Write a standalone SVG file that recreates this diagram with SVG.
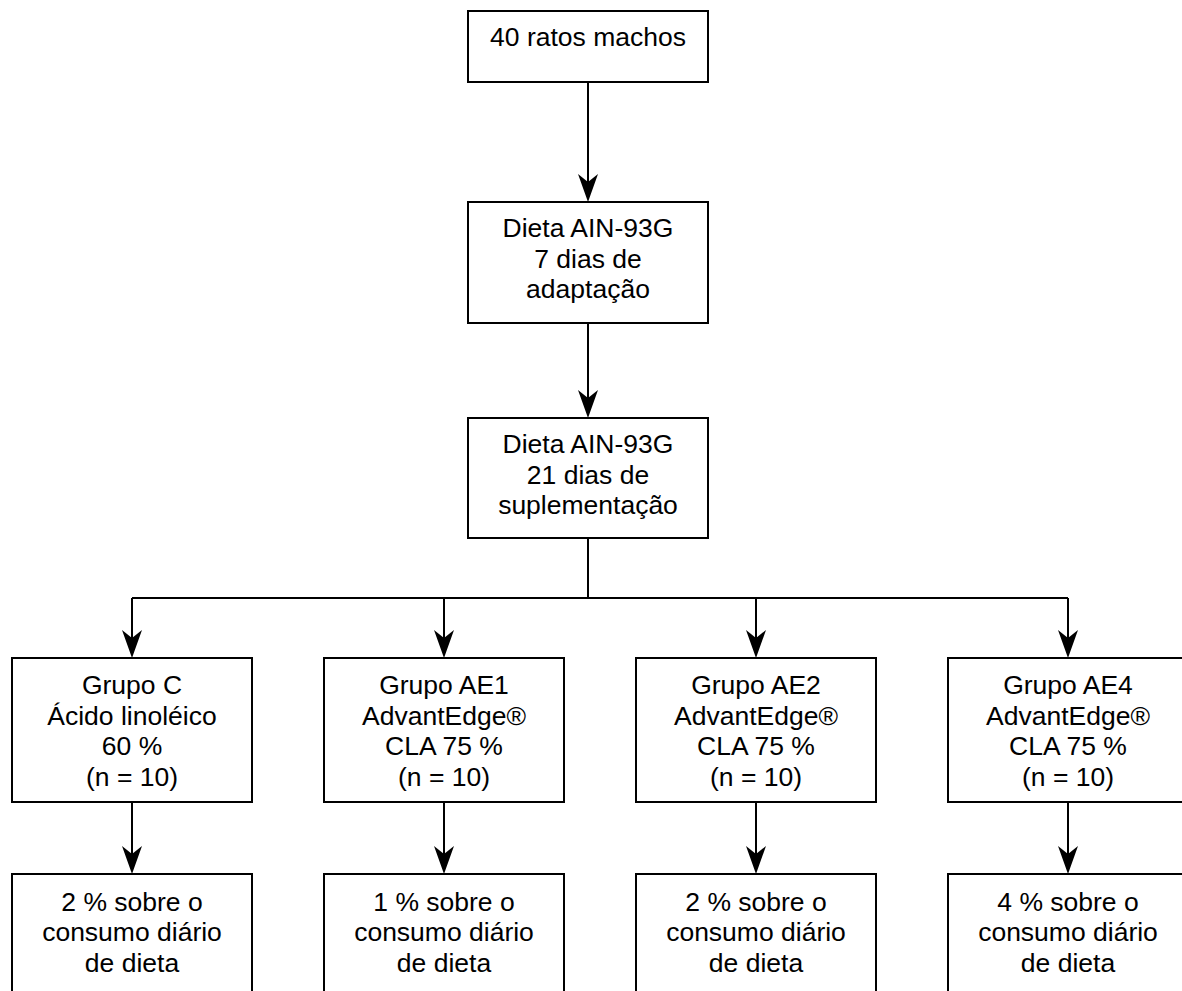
<svg xmlns="http://www.w3.org/2000/svg" width="1182" height="991" viewBox="0 0 1182 991">
<style>
.box{fill:#fff;stroke:#000;stroke-width:2}
.t{font-family:"Liberation Sans",Arial,sans-serif;font-size:26.5px;fill:#000;text-anchor:middle}
.c{fill:none;stroke:#000;stroke-width:2}
</style>
<defs>
<marker id="arr" markerUnits="userSpaceOnUse" markerWidth="30" markerHeight="22" viewBox="0 0 30 22" refX="8" refY="11" orient="auto">
<path d="M0,1 L28,11 L0,21 L8,11 Z" fill="#000"/>
</marker>
</defs>
<rect width="1182" height="991" fill="#fff"/>
<g id="connectors">
<path class="c" d="M588,82 V182" marker-end="url(#arr)"/>
<path class="c" d="M588,323 V398" marker-end="url(#arr)"/>
<path class="c" d="M588,538 V598 M132,598 H1068"/>
<path class="c" d="M132,598 V638" marker-end="url(#arr)"/>
<path class="c" d="M444,598 V638" marker-end="url(#arr)"/>
<path class="c" d="M756,598 V638" marker-end="url(#arr)"/>
<path class="c" d="M1068,598 V638" marker-end="url(#arr)"/>
<path class="c" d="M132,802 V854" marker-end="url(#arr)"/>
<path class="c" d="M444,802 V854" marker-end="url(#arr)"/>
<path class="c" d="M756,802 V854" marker-end="url(#arr)"/>
<path class="c" d="M1068,802 V854" marker-end="url(#arr)"/>
</g>
<g id="n1"><rect class="box" x="468" y="11" width="240" height="71"/><text class="t" x="588" y="46">40 ratos machos</text></g>
<g id="n2"><rect class="box" x="468" y="202" width="240" height="121"/><text class="t" x="588" y="237">Dieta AIN-93G</text><text class="t" x="588" y="267.5">7 dias de</text><text class="t" x="588" y="298">adaptação</text></g>
<g id="n3"><rect class="box" x="468" y="418" width="240" height="120"/><text class="t" x="588" y="453">Dieta AIN-93G</text><text class="t" x="588" y="483.5">21 dias de</text><text class="t" x="588" y="514">suplementação</text></g>
<g id="gC"><rect class="box" x="12" y="658" width="240" height="144"/><text class="t" x="132" y="694">Grupo C</text><text class="t" x="132" y="724.5">Ácido linoléico</text><text class="t" x="132" y="755">60 %</text><text class="t" x="132" y="785.5">(n = 10)</text></g>
<g id="gAE1"><rect class="box" x="324" y="658" width="240" height="144"/><text class="t" x="444" y="694">Grupo AE1</text><text class="t" x="444" y="724.5">AdvantEdge®</text><text class="t" x="444" y="755">CLA 75 %</text><text class="t" x="444" y="785.5">(n = 10)</text></g>
<g id="gAE2"><rect class="box" x="636" y="658" width="240" height="144"/><text class="t" x="756" y="694">Grupo AE2</text><text class="t" x="756" y="724.5">AdvantEdge®</text><text class="t" x="756" y="755">CLA 75 %</text><text class="t" x="756" y="785.5">(n = 10)</text></g>
<g id="gAE4"><rect class="box" x="948" y="658" width="240" height="144"/><text class="t" x="1068" y="694">Grupo AE4</text><text class="t" x="1068" y="724.5">AdvantEdge®</text><text class="t" x="1068" y="755">CLA 75 %</text><text class="t" x="1068" y="785.5">(n = 10)</text></g>
<g id="dC"><rect class="box" x="12" y="874" width="240" height="130"/><text class="t" x="132" y="910.5">2 % sobre o</text><text class="t" x="132" y="941">consumo diário</text><text class="t" x="132" y="971.5">de dieta</text></g>
<g id="dAE1"><rect class="box" x="324" y="874" width="240" height="130"/><text class="t" x="444" y="910.5">1 % sobre o</text><text class="t" x="444" y="941">consumo diário</text><text class="t" x="444" y="971.5">de dieta</text></g>
<g id="dAE2"><rect class="box" x="636" y="874" width="240" height="130"/><text class="t" x="756" y="910.5">2 % sobre o</text><text class="t" x="756" y="941">consumo diário</text><text class="t" x="756" y="971.5">de dieta</text></g>
<g id="dAE4"><rect class="box" x="948" y="874" width="240" height="130"/><text class="t" x="1068" y="910.5">4 % sobre o</text><text class="t" x="1068" y="941">consumo diário</text><text class="t" x="1068" y="971.5">de dieta</text></g>
</svg>
